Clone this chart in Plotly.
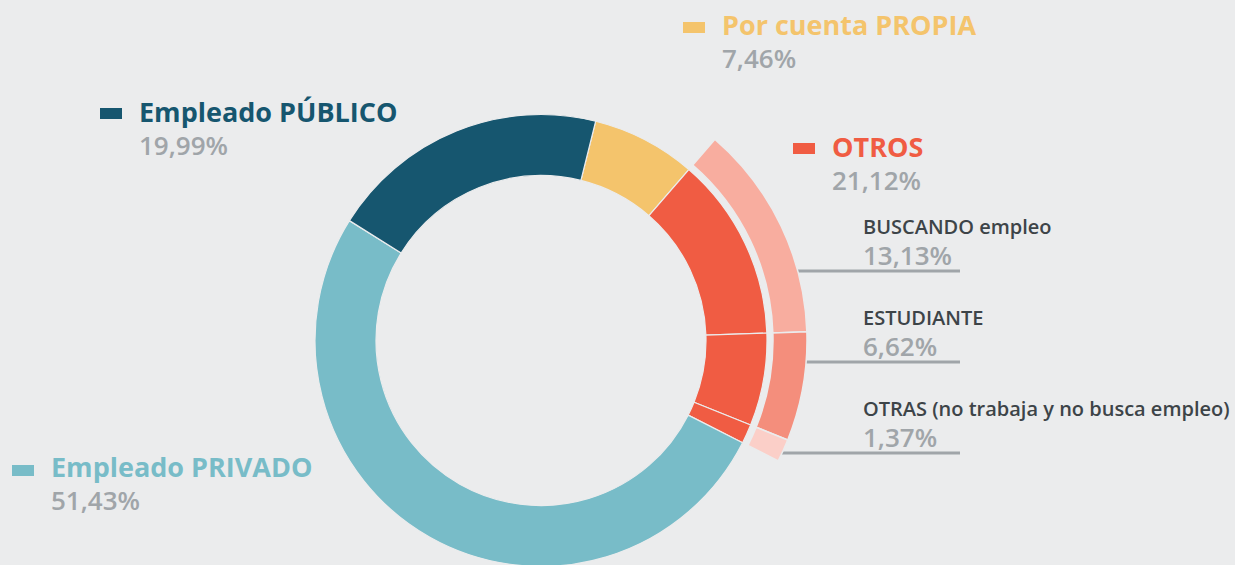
import plotly.graph_objects as go

# ---------------- data ----------------
main_labels = ["Por cuenta PROPIA", "BUSCANDO empleo", "ESTUDIANTE",
               "OTRAS (no trabaja y no busca empleo)", "Empleado PRIVADO", "Empleado PÚBLICO"]
main_values = [7.46, 13.13, 6.62, 1.37, 51.43, 19.99]
main_colors = ["#f4c46c", "#f05c43", "#f05c43", "#f05c43", "#78bcc8", "#16566f"]

sub_colors = ["rgba(0,0,0,0)", "#f8ad9f", "#f48e7c", "#fbcfc8", "rgba(0,0,0,0)", "rgba(0,0,0,0)"]
sub_line_w = [0, 1.5, 1.5, 1.5, 0, 0]

headers = ["Por cuenta PROPIA", "Empleado PÚBLICO", "OTROS", "Empleado PRIVADO"]
header_pcts = ["7,46%", "19,99%", "21,12%", "51,43%"]
header_colors = ["#f4c46c", "#16566f", "#f05c43", "#78bcc8"]

sub_names = ["BUSCANDO empleo", "ESTUDIANTE", "OTRAS (no trabaja y no busca empleo)"]
sub_pcts = ["13,13%", "6,62%", "1,37%"]

# ---------------- layout helpers ----------------
W, H = 1235, 620
BG = "#ebeced"
CX, CY = 541, 340.5
R_MAIN, R_IN = 226, 165
R_OUT, R_OUT_IN = 266, 232


def px(x):
    return x / W


def py(y):
    return 1 - y / H


def dom(r):
    return dict(x=[px(CX - r), px(CX + r)], y=[py(CY + r), py(CY - r)])


fig = go.Figure()
fig.add_trace(go.Pie(
    labels=main_labels, values=main_values, sort=False, direction="clockwise",
    rotation=14, hole=R_IN / R_MAIN, domain=dom(R_MAIN),
    marker=dict(colors=main_colors, line=dict(color=BG, width=1.2)),
    textinfo="none", hoverinfo="skip", showlegend=False,
))
fig.add_trace(go.Pie(
    labels=main_labels, values=main_values, sort=False, direction="clockwise",
    rotation=14, hole=R_OUT_IN / R_OUT, domain=dom(R_OUT),
    marker=dict(colors=sub_colors, line=dict(color=BG, width=sub_line_w)),
    textinfo="none", hoverinfo="skip", showlegend=False,
))

FONT = "Open Sans"
GRAY = "#a0a5a9"
DARK = "#3d4448"
annotations = []
shapes = []

# header entries: (marker x0, marker y-center, text x, block center y)
hdr_pos = [
    (683, 27.5, 722, 41.5),
    (100, 113.5, 139, 128),
    (793, 148.5, 832, 162.5),
    (12, 470.5, 51, 483.5),
]
for (mx, my, tx, by), name, pct, col in zip(hdr_pos, headers, header_pcts, header_colors):
    shapes.append(dict(type="rect", xref="paper", yref="paper",
                       x0=px(mx), x1=px(mx + 22), y0=py(my + 5.5), y1=py(my - 5.5),
                       fillcolor=col, line=dict(width=0)))
    txt = (f"<span style='font-size:27px;color:{col}'><b>{name}</b></span><br>"
           f"<span style='font-size:26px;color:{GRAY}'>{pct}</span>")
    annotations.append(dict(text=txt, x=px(tx - 2), y=py(by), xref="paper", yref="paper",
                            xanchor="left", yanchor="middle", align="left", showarrow=False,
                            font=dict(family=FONT, size=25, color=GRAY, weight=600)))

# sub entries: (block center y, line y, line x0)
sub_pos = [(243, 271, 790), (334, 362, 800), (425, 453, 778)]
for (by, ly, lx0), name, pct in zip(sub_pos, sub_names, sub_pcts):
    txt = (f"<span style='font-size:20px;color:{DARK}'>{name}</span><br>"
           f"<span style='font-size:26px;color:{GRAY}'>{pct}</span>")
    annotations.append(dict(text=txt, x=px(861), y=py(by), xref="paper", yref="paper",
                            xanchor="left", yanchor="middle", align="left", showarrow=False,
                            font=dict(family=FONT, size=24, color=GRAY, weight=600)))
    shapes.append(dict(type="line", xref="paper", yref="paper", layer="below",
                       x0=px(lx0), x1=px(960), y0=py(ly), y1=py(ly),
                       line=dict(color=GRAY, width=3)))

fig.update_layout(
    width=W, height=H, margin=dict(l=0, r=0, t=0, b=0, autoexpand=False),
    paper_bgcolor=BG, plot_bgcolor=BG,
    annotations=annotations, shapes=shapes, showlegend=False,
)

fig.write_html("out.html", config={"displayModeBar": False},
               post_script="document.body.style.margin='0';document.body.style.overflow='hidden';"
                           "document.documentElement.style.overflow='hidden';"
                           "document.body.style.background='" + BG + "';")
